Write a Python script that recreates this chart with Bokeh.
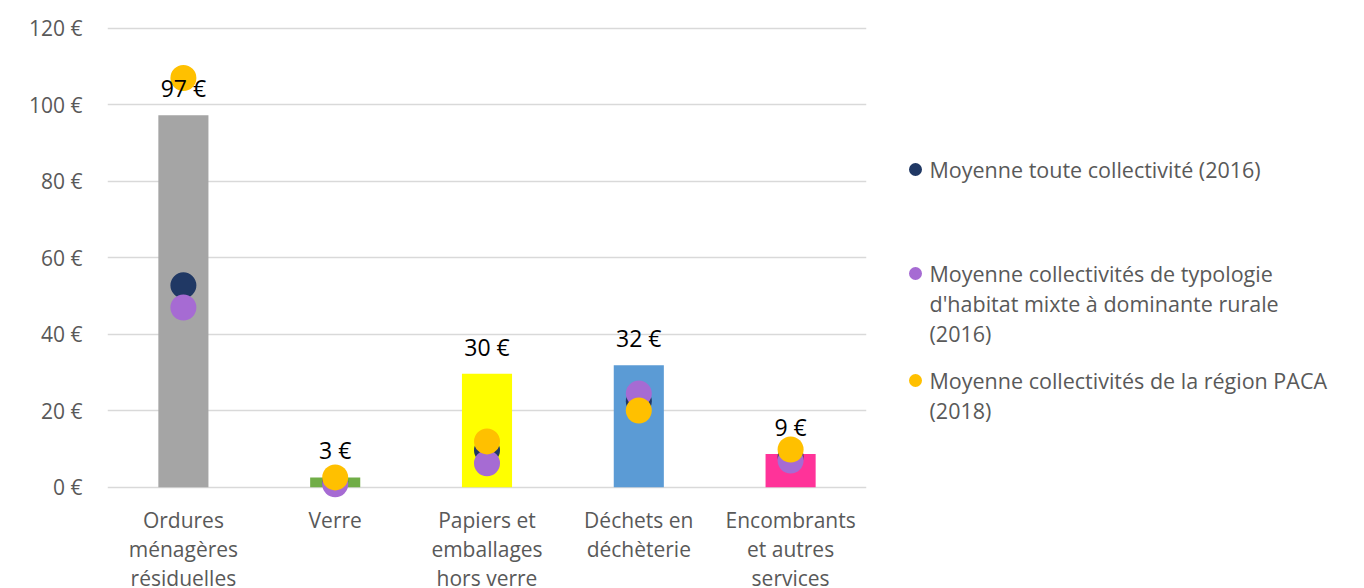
from bokeh.plotting import figure
from bokeh.layouts import row
from bokeh.models import Range1d, FixedTicker, PrintfTickFormatter, ColumnDataSource
from bokeh.core.properties import value
from bokeh.embed import file_html
from bokeh.resources import INLINE

categories = ["Ordures ménagères résiduelles", "Verre", "Papiers et emballages hors verre",
              "Déchets en déchèterie", "Encombrants et autres services"]
cat_lines = [["Ordures", "ménagères", "résiduelles"], ["Verre"], ["Papiers et", "emballages", "hors verre"],
             ["Déchets en", "déchèterie"], ["Encombrants", "et autres", "services"]]
bar_values = [97.3, 2.6, 29.7, 31.9, 8.7]
bar_colors = ["#A5A5A5", "#70AD47", "#FFFF00", "#5B9BD5", "#FF3399"]
moy_toute = [52.8, 1.5, 9.7, 22.5, 8.0]
moy_rurale = [47.0, 0.8, 6.3, 24.5, 7.0]
moy_paca = [107.0, 2.6, 12.0, 20.1, 9.9]
series_names = [["Moyenne toute collectivité (2016)"],
                ["Moyenne collectivités de typologie", "d'habitat mixte à dominante rurale", "(2016)"],
                ["Moyenne collectivités de la région PACA", "(2018)"]]
series_colors = ["#203864", "#A66BD3", "#FFC000"]
y_ticks = [0, 20, 40, 60, 80, 100, 120]

FONT = "Open Sans"
GREY = "#595959"
W, H = 1364, 588
MAIN_W = 880
PX_PER_UNIT = 3.825
Y_TOP = 121
FRAME_TOP = 24
Y_BOTTOM = Y_TOP - (H - FRAME_TOP) / PX_PER_UNIT

p = figure(width=MAIN_W, height=H, x_range=categories, y_range=Range1d(Y_BOTTOM, Y_TOP),
           output_backend="svg", toolbar_location=None,
           min_border_left=107, min_border_right=MAIN_W - 866, min_border_top=FRAME_TOP,
           min_border_bottom=0)
p.outline_line_color = None
p.x_range.range_padding = 0

p.xaxis.visible = False
p.xgrid.visible = False
p.yaxis.ticker = FixedTicker(ticks=y_ticks)
p.yaxis.formatter = PrintfTickFormatter(format="%d €")
p.yaxis.axis_line_color = None
p.yaxis.major_tick_line_color = None
p.yaxis.minor_tick_line_color = None
p.yaxis.major_label_text_font = FONT
p.yaxis.major_label_text_font_size = "21px"
p.yaxis.major_label_text_color = GREY
p.yaxis.major_label_standoff = 19
p.ygrid.ticker = FixedTicker(ticks=y_ticks)
p.ygrid.grid_line_color = "#D9D9D9"
p.ygrid.grid_line_width = 1.5

src = ColumnDataSource(dict(cat=categories, v=bar_values, c=bar_colors,
                            lab=[f"{round(v)} €" for v in bar_values],
                            s1=moy_toute, s2=moy_rurale, s3=moy_paca))

p.vbar(x="cat", top="v", bottom=0, width=0.33, fill_color="c", line_color=None, source=src)

for col, color in zip(["s1", "s2", "s3"], series_colors):
    p.scatter(x="cat", y=col, size=26, fill_color=color, line_color=None, source=src)

p.text(x="cat", y="v", text="lab", y_offset=-27, text_align="center", text_baseline="middle",
       text_font=value(FONT), text_font_size="23px", text_color="black", source=src)

# category labels below the axis (inside the frame, below zero)
lab_x, lab_t, lab_off = [], [], []
for cat, lines in zip(categories, cat_lines):
    for j, line in enumerate(lines):
        lab_x.append(cat)
        lab_t.append(line)
        lab_off.append(33 + 29 * j)
lab_src = ColumnDataSource(dict(x=lab_x, t=lab_t, off=lab_off, y=[0] * len(lab_x)))
p.text(x="x", y="y", text="t", y_offset="off", text_align="center", text_baseline="middle",
       text_font=value(FONT), text_font_size="21px", text_color=GREY, source=lab_src)

# legend panel as a second figure (frame aligned with main frame top)
lg = figure(width=W - MAIN_W, height=H, x_range=Range1d(0, W - MAIN_W), y_range=Range1d(H, FRAME_TOP),
            output_backend="svg", toolbar_location=None, min_border=0, min_border_top=FRAME_TOP)
lg.axis.visible = False
lg.grid.visible = False
lg.outline_line_color = None

legend_rows = [169, 273, 380]
dot_src = ColumnDataSource(dict(x=[915 - MAIN_W] * 3, y=legend_rows, c=series_colors))
lg.scatter(x="x", y="y", size=13, fill_color="c", line_color=None, source=dot_src)
tx, ty, tt = [], [], []
for r, lines in zip(legend_rows, series_names):
    for j, line in enumerate(lines):
        tx.append(929 - MAIN_W)
        ty.append(r + 30 * j)
        tt.append(line)
lg.text(x="x", y="y", text="t", source=ColumnDataSource(dict(x=tx, y=ty, t=tt)),
        text_align="left", text_baseline="middle", text_font=value(FONT),
        text_font_size="21.5px", text_color=GREY)

layout = row(p, lg, spacing=0)
open("out.html", "w").write(file_html(layout, INLINE))
